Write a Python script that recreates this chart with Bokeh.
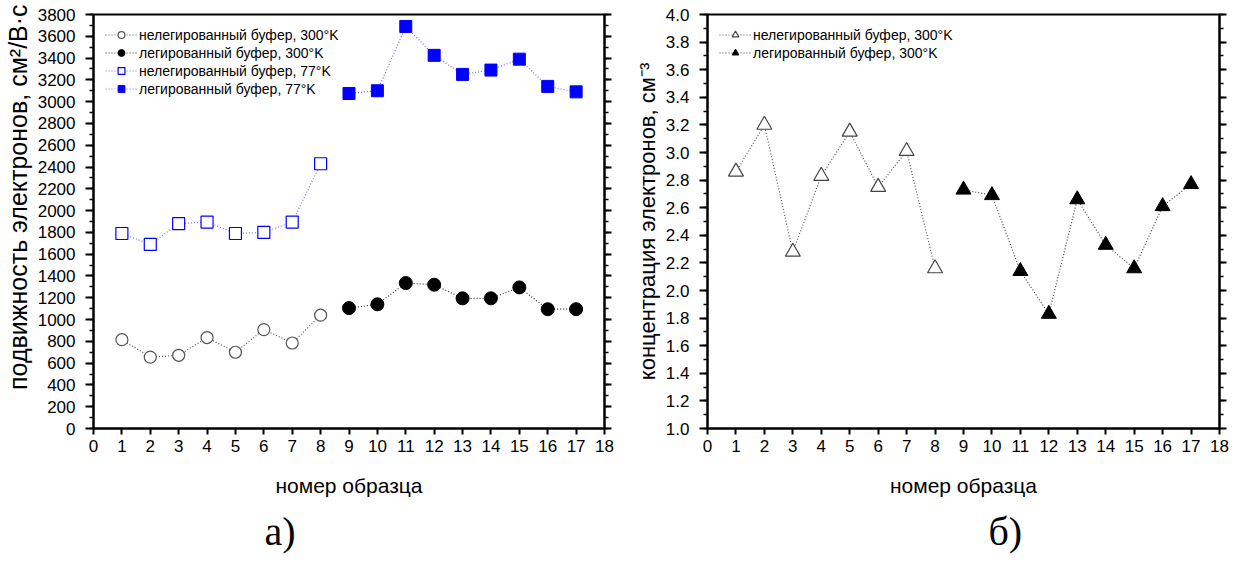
from bokeh.plotting import figure
from bokeh.layouts import row
from bokeh.models import (FixedTicker, LinearAxis, Title, Range1d, PrintfTickFormatter,
                          CustomJSTickFormatter)
from bokeh.embed import file_html
from bokeh.resources import INLINE

# ---- data ----
samples_undoped = [1, 2, 3, 4, 5, 6, 7, 8]
samples_doped = [9, 10, 11, 12, 13, 14, 15, 16, 17]
mob_undoped_300 = [815, 655, 672, 835, 700, 908, 785, 1040]
mob_doped_300 = [1105, 1140, 1335, 1320, 1195, 1195, 1295, 1095, 1095]
mob_undoped_77 = [1790, 1690, 1880, 1895, 1790, 1800, 1895, 2430]
mob_doped_77 = [3075, 3100, 3690, 3425, 3250, 3290, 3390, 3140, 3090]
conc_undoped_300 = [2.86, 3.20, 2.28, 2.83, 3.15, 2.75, 3.01, 2.16]
conc_doped_300 = [2.73, 2.69, 2.14, 1.83, 2.66, 2.33, 2.16, 2.61, 2.77]

x_ticks = list(range(0, 19))
mob_ticks = list(range(0, 3801, 200))
mob_minor = list(range(0, 3801, 100))
conc_ticks = [round(1.0 + 0.2 * i, 1) for i in range(16)]
conc_minor = [round(1.0 + 0.1 * i, 1) for i in range(31)]

lbl_undoped_300 = "нелегированный буфер, 300°K"
lbl_doped_300 = "легированный буфер, 300°K"
lbl_undoped_77 = "нелегированный буфер, 77°K"
lbl_doped_77 = "легированный буфер, 77°K"

FONT = "Liberation Sans"
NB = "\u00a0"


def make_fig(width, ymin, ymax, yticks, yminor, ylabel, ylabel_size, border_left, border_right,
             fmt=None):
    p = figure(width=width, height=566, output_backend="svg", toolbar_location=None,
               x_range=Range1d(0, 18), y_range=Range1d(ymin, ymax),
               min_border_left=border_left, min_border_right=border_right,
               min_border_top=14, min_border_bottom=138)
    p.grid.visible = False
    p.outline_line_color = "black"
    p.outline_line_width = 2
    p.background_fill_color = "white"
    p.border_fill_color = "white"

    p.xaxis.ticker = FixedTicker(ticks=x_ticks)
    p.yaxis.ticker = FixedTicker(ticks=yticks, minor_ticks=yminor)
    if fmt:
        p.yaxis.formatter = PrintfTickFormatter(format=fmt)
    p.xaxis.axis_label = "номер образца"
    p.yaxis.axis_label = ylabel
    for ax in (p.xaxis, p.yaxis):
        ax.axis_line_width = 2
        ax.major_tick_line_width = 2
        ax.minor_tick_line_width = 1.5
        ax.major_tick_in = 0
        ax.minor_tick_out = 4
        ax.minor_tick_in = 0
        ax.major_label_text_font = FONT
        ax.major_label_text_font_size = "17px"
        ax.major_label_text_color = "black"
        ax.axis_label_text_font = FONT
        ax.axis_label_text_font_style = "normal"
        ax.axis_label_text_color = "black"
    p.xaxis.major_tick_out = 6
    p.yaxis.major_tick_out = 8
    p.xaxis.axis_label_text_font_size = "21px"
    p.yaxis.axis_label_text_font_size = ylabel_size
    p.xaxis.major_label_standoff = 5
    p.xaxis.axis_label_standoff = 19
    p.yaxis.major_label_standoff = 10
    p.yaxis.axis_label_standoff = 3

    right = LinearAxis(ticker=FixedTicker(ticks=yticks, minor_ticks=yminor),
                       formatter=CustomJSTickFormatter(code="return ''"),
                       axis_line_width=2, major_tick_line_width=2, minor_tick_line_width=1.5,
                       major_tick_out=7, major_tick_in=0, minor_tick_out=4, minor_tick_in=0,
                       major_label_standoff=0)
    p.add_layout(right, "right")
    return p


p1 = make_fig(624, 0, 3800, mob_ticks, mob_minor,
              NB * 7 + "подвижность электронов, см²/В·с", "25px", 91, 20)

p1.line(samples_undoped, mob_undoped_300, line_color="#555555", line_dash="1 2", line_width=1.2,
        legend_label=lbl_undoped_300)
p1.scatter(samples_undoped, mob_undoped_300, marker="circle", size=12, fill_color="white",
           line_color="#555555", line_width=1.2, legend_label=lbl_undoped_300)
p1.line(samples_doped, mob_doped_300, line_color="#333333", line_dash="1 2", line_width=1.2,
        legend_label=lbl_doped_300)
p1.scatter(samples_doped, mob_doped_300, marker="circle", size=13, fill_color="black",
           line_color="black", line_width=1, legend_label=lbl_doped_300)
p1.line(samples_undoped, mob_undoped_77, line_color="#7070ff", line_dash="1 2", line_width=1.2,
        legend_label=lbl_undoped_77)
p1.scatter(samples_undoped, mob_undoped_77, marker="square", size=12, fill_color="white",
           line_color="#0000ff", line_width=1.2, legend_label=lbl_undoped_77)
p1.line(samples_doped, mob_doped_77, line_color="#7070ff", line_dash="1 2", line_width=1.2,
        legend_label=lbl_doped_77)
p1.scatter(samples_doped, mob_doped_77, marker="square", size=12, fill_color="#0000ff",
           line_color="#0000ff", line_width=1, legend_label=lbl_doped_77)

p2 = make_fig(616, 1.0, 4.0, conc_ticks, conc_minor,
              "концентрация электронов, см⁻³", "22px", 83, 21, fmt="%.1f")
p2.line(samples_undoped, conc_undoped_300, line_color="#555555", line_dash="1 2", line_width=1.2,
        legend_label=lbl_undoped_300)
p2.scatter(samples_undoped, conc_undoped_300, marker="triangle", size=15, fill_color="white",
           line_color="#444444", line_width=1.2, legend_label=lbl_undoped_300)
p2.line(samples_doped, conc_doped_300, line_color="#444444", line_dash="1 2", line_width=1.2,
        legend_label=lbl_doped_300)
p2.scatter(samples_doped, conc_doped_300, marker="triangle", size=15, fill_color="black",
           line_color="black", line_width=1, legend_label=lbl_doped_300)

for p in (p1, p2):
    lg = p.legend[0]
    lg.location = "top_left"
    lg.border_line_color = None
    lg.background_fill_alpha = 0
    lg.margin = 12
    lg.padding = 4
    lg.spacing = 1
    lg.glyph_width = 32
    lg.glyph_height = 17
    lg.label_height = 17
    lg.label_standoff = 2
    lg.label_text_font = FONT
    lg.label_text_font_size = "14px"
    lg.label_text_color = "black"

p1.add_layout(Title(text="а)", align="left", offset=171, standoff=14,
                    text_font="Liberation Serif", text_font_size="40px",
                    text_font_style="normal", text_color="black"), "below")
p2.add_layout(Title(text="б)", align="left", offset=281, standoff=14,
                    text_font="Liberation Serif", text_font_size="40px",
                    text_font_style="normal", text_color="black"), "below")

layout = row(p1, p2)
open("out.html", "w").write(file_html(layout, INLINE))
